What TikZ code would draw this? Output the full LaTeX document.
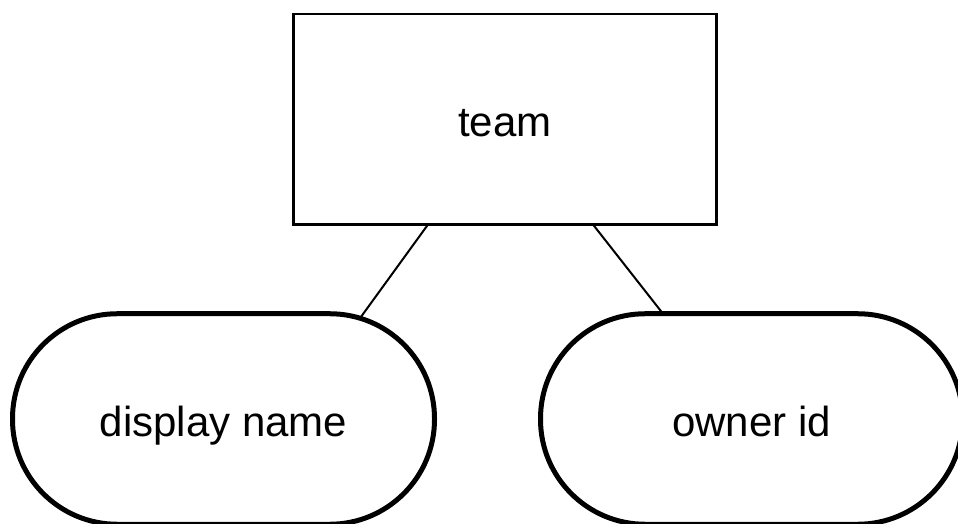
\documentclass[tikz,border=0pt]{standalone}
\usepackage{fontspec}
\setmainfont{Liberation Sans}
\usetikzlibrary{calc}

\tikzset{
  label text/.style={font=\fontsize{31.5pt}{36pt}\selectfont, text height=26.25pt, text depth=0pt, inner sep=0pt, outer sep=0pt},
  entitybox/.style={label text, draw=black, line width=1.9pt, minimum width=317.25pt, minimum height=157.9pt},
  attrbox/.style={label text, draw=black, line width=3.75pt, rounded corners=78.6pt, minimum width=316.5pt, minimum height=157.9pt},
  link/.style={draw=black, line width=1.5pt}
}

\begin{document}
\begin{tikzpicture}[x=0.75pt, y=-0.75pt]
  \useasboundingbox (0,0) rectangle (958,524);

  % entity and its two attributes
  \node[entitybox] (team) at (505,119.25) {team};
  \node[attrbox] (dname) at (223.5,419) {display name};
  \node[attrbox] (owner) at (751.5,419) {owner id};

  % attribute links
  \draw[link] ($(team.south)+(-77,0)$) -- ($(dname.north east)+(-74.5,4.5)$);
  \draw[link] ($(team.south)+(88,0)$) -- ($(owner.north west)+(122.5,0)$);
\end{tikzpicture}
\end{document}
